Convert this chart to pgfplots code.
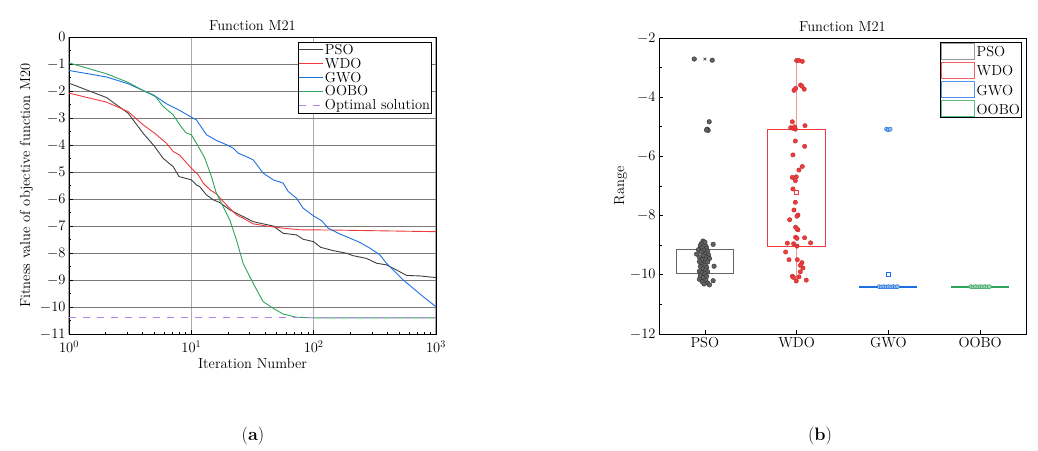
\RequirePackage{fix-cm}
\documentclass[border=0pt]{standalone}
\usepackage{pgfplots}
\pgfplotsset{compat=1.18}

\definecolor{cPSO}{HTML}{3F3F3F}
\definecolor{cWDO}{HTML}{EF3B3B}
\definecolor{cGWO}{HTML}{1C6FE0}
\definecolor{cOOBO}{HTML}{2EA35C}
\definecolor{cOPT}{HTML}{B482E8}
\definecolor{gridH}{HTML}{7A7A7A}
\definecolor{gridV}{HTML}{ABABAB}
\colorlet{bPSO}{gray!80}
\colorlet{bWDO}{cWDO!80}
\colorlet{bGWO}{cGWO!75}
\colorlet{bOOBO}{cOOBO!75}

\newcommand{\plotfont}{\fontsize{14.5}{16}\selectfont}

\pgfplotsset{
  panel/.style={
    scale only axis,
    anchor=south west,
    width=367pt,
    font=\plotfont,
    tick label style={font=\plotfont},
    label style={font=\plotfont},
    title style={font=\plotfont, yshift=-3pt},
    axis line style={line width=0.9pt},
    tick pos=left,
    tick align=inside,
    major tick length=4pt,
    minor tick length=2.5pt,
    every tick/.style={black, line width=0.7pt},
  },
  % legend samples: the stroke colour is given explicitly
  lineimg/.style={legend image code/.code={%
    \draw[draw=#1, line width=0.9pt] (0pt,0pt) -- (24pt,0pt);}},
  boximg/.style={legend image code/.code={%
    \draw[draw=#1, line width=1.1pt] (0pt,-7pt) rectangle (33pt,9pt);}},
}

\begin{document}
\begin{tikzpicture}
\useasboundingbox (0pt,0pt) rectangle (1038pt,450pt);

% ---------------- convergence curves ----------------
\begin{axis}[panel,
  at={(69pt,116pt)}, height=297pt,
  xmode=log, xmin=1, xmax=1000,
  ymin=-11, ymax=0, ytick={-11,-10,...,0},
  minor y tick num=1,
  title={Function M21},
  xlabel={Iteration Number},
  ylabel={Fitness value of objective function M20},
  xticklabel style={yshift=-3pt},
  xlabel style={yshift=1pt},
  xmajorgrids, ymajorgrids,
  x grid style={gridV, line width=1.1pt},
  y grid style={gridH, line width=0.6pt},
  legend cell align=left,
  legend style={at={(1,1)}, anchor=north east, xshift=-4pt, yshift=-5pt,
    draw=black, line width=0.8pt, inner sep=0.5pt,
    font=\plotfont,
    nodes={draw=none, inner sep=1.1pt}},
]
\addlegendimage{lineimg=cPSO}
\addlegendentry{PSO}
\addlegendimage{lineimg=cWDO}
\addlegendentry{WDO}
\addlegendimage{lineimg=cGWO}
\addlegendentry{GWO}
\addlegendimage{lineimg=cOOBO}
\addlegendentry{OOBO}
\addlegendimage{legend image code/.code={%
  \draw[draw=cOPT, line width=0.9pt, dash pattern=on 7pt off 7pt] (0pt,0pt) -- (24pt,0pt);}}
\addlegendentry{Optimal solution}

\addplot[forget plot, draw=cPSO, line width=0.9pt] coordinates {
 (1,-1.71)(2.02,-2.24)(3.04,-2.82)(4.03,-3.56)(5.0,-4.05)(5.87,-4.49)
 (7.1,-4.80)(7.94,-5.17)(10,-5.29)(11,-5.48)(11.7,-5.54)(13.3,-5.85)
 (15.1,-6.03)(17.1,-6.13)(20.6,-6.40)(24.9,-6.59)(28.2,-6.71)(32,-6.84)
 (38.6,-6.92)(46.7,-7.00)(56.3,-7.27)(72.4,-7.33)(82,-7.49)(100,-7.58)
 (114,-7.79)(144,-7.91)(186,-8.01)(210,-8.10)(270,-8.20)(327,-8.38)
 (394,-8.44)(476,-8.63)(575,-8.83)(741,-8.85)(1000,-8.91)};
\addplot[forget plot, draw=cWDO, line width=0.9pt] coordinates {
 (1,-2.08)(2.02,-2.41)(3.04,-2.76)(4.03,-3.25)(5.0,-3.56)(6.25,-3.93)
 (7.1,-4.24)(8.04,-4.38)(10,-4.86)(11.4,-5.11)(12.5,-5.41)(14.2,-5.66)
 (16,-5.81)(18.2,-6.09)(20.6,-6.34)(23.4,-6.59)(26.5,-6.71)(32,-6.92)
 (41.1,-7.00)(56.3,-7.08)(77,-7.14)(144,-7.15)(270,-7.17)(1000,-7.21)};
\addplot[forget plot, draw=cGWO, line width=0.9pt] coordinates {
 (1,-1.24)(2.02,-1.48)(3.04,-1.73)(4.03,-1.98)(5.18,-2.22)(6.25,-2.47)
 (8.04,-2.72)(10,-2.97)(11,-3.07)(13.3,-3.62)(16,-3.83)(19.4,-3.99)
 (22,-4.12)(24.1,-4.30)(28.2,-4.43)(32,-4.55)(38.6,-5.04)(46.7,-5.29)
 (56.3,-5.41)(61.9,-5.72)(72.4,-5.97)(82,-6.34)(100,-6.63)(116,-6.80)
 (131.5,-7.08)(159,-7.27)(198,-7.45)(239,-7.61)(288,-7.82)(348,-8.07)
 (394,-8.38)(448,-8.63)(540,-9.00)(652,-9.31)(787,-9.62)(1000,-9.99)};
\addplot[forget plot, draw=cOOBO, line width=0.9pt] coordinates {
 (1,-0.96)(2.02,-1.36)(3.04,-1.68)(4.03,-1.98)(5.0,-2.16)(5.87,-2.57)
 (7.1,-2.88)(8.04,-3.25)(9.0,-3.54)(10,-3.62)(11,-3.93)(12.9,-4.49)
 (14.6,-5.17)(16,-5.78)(18.2,-6.28)(20.6,-6.77)(23.4,-7.52)(26.5,-8.38)
 (32,-9.12)(38.6,-9.80)(46.7,-10.05)(56.3,-10.26)(72.4,-10.38)
 (100,-10.40)(1000,-10.40)};
\addplot[forget plot, draw=cOPT, line width=0.9pt, dash pattern=on 7pt off 7pt] coordinates {
 (1,-10.40)(1000,-10.40)};
\end{axis}

% ---------------- box charts ----------------
\begin{axis}[panel,
  at={(659pt,116pt)}, height=296pt,
  xmin=0.5, xmax=4.5,
  xtick={1,2,3,4}, xticklabels={PSO,WDO,GWO,OOBO},
  ymin=-12, ymax=-2, ytick={-12,-10,...,-2},
  minor y tick num=1,
  title={Function M21},
  ylabel={Range},
  ylabel style={yshift=-4pt},
  legend cell align=left,
  legend style={at={(1,1)}, anchor=north east, xshift=-4pt, yshift=-4pt,
    draw=black, line width=0.9pt, inner sep=0.5pt, row sep=2pt,
    font=\plotfont,
    nodes={draw=none, inner sep=1.2pt}},
]
\addlegendimage{boximg=bPSO}
\addlegendentry{PSO}
\addlegendimage{boximg=bWDO}
\addlegendentry{WDO}
\addlegendimage{boximg=bGWO}
\addlegendentry{GWO}
\addlegendimage{boximg=bOOBO}
\addlegendentry{OOBO}

% boxes (quartiles) and whiskers
\addplot[forget plot, draw=gray!80!black, line width=0.9pt] coordinates {
 (0.685,-9.15)(1.315,-9.15)(1.315,-9.96)(0.685,-9.96)(0.685,-9.15)};
\addplot[forget plot, draw=cWDO!55, line width=1.1pt] coordinates {(2,-2.75)(2,-5.08)};
\addplot[forget plot, draw=cWDO!55, line width=1.1pt] coordinates {(2,-9.03)(2,-10.22)};
\addplot[forget plot, draw=cWDO!55, line width=0.9pt] coordinates {(1.97,-2.75)(2.03,-2.75)};
\addplot[forget plot, draw=cWDO, line width=0.9pt] coordinates {
 (1.685,-5.08)(2.315,-5.08)(2.315,-9.03)(1.685,-9.03)(1.685,-5.08)};
\addplot[forget plot, draw=cGWO, line width=1.6pt] coordinates {(2.685,-10.41)(3.315,-10.41)};
\addplot[forget plot, draw=cOOBO, line width=1.6pt] coordinates {(3.685,-10.41)(4.315,-10.41)};

% PSO samples
\addplot[forget plot, only marks, mark=*, mark size=2.3pt,
  mark options={draw=black!80, fill=black!62, line width=0.4pt}]
  table[x expr=1+\thisrow{dx}, y=v] {
dx v
-0.116 -2.71
0.080 -2.75
0.047 -4.83
0.025 -5.08
0.036 -5.12
0.018 -5.11
-0.02 -8.86
0.00 -8.90
-0.04 -8.95
0.09 -8.97
-0.05 -9.02
0.01 -9.03
-0.03 -9.08
0.02 -9.10
-0.07 -9.15
-0.01 -9.17
0.03 -9.20
-0.04 -9.23
-0.09 -9.30
0.00 -9.28
0.04 -9.33
-0.02 -9.35
-0.06 -9.40
0.02 -9.42
0.05 -9.45
-0.03 -9.48
0.01 -9.50
-0.06 -9.55
0.03 -9.57
-0.01 -9.60
-0.04 -9.64
0.00 -9.68
0.10 -9.71
-0.05 -9.72
0.02 -9.75
-0.02 -9.80
0.01 -9.84
-0.06 -9.88
0.03 -9.90
-0.03 -9.93
0.00 -9.97
-0.05 -10.02
0.02 -10.05
-0.02 -10.10
0.09 -10.20
-0.06 -10.15
0.01 -10.18
-0.03 -10.23
0.03 -10.28
-0.01 -10.31
0.05 -10.34
};
\addplot[forget plot, only marks, mark=x, mark size=2pt, black!70, line width=0.6pt]
  coordinates {(1,-2.71)};

% WDO samples
\addplot[forget plot, only marks, mark=*, mark size=2.2pt,
  mark options={draw=cWDO!80!black, fill=cWDO, line width=0.4pt}]
  table[x expr=2+\thisrow{dx}, y=v] {
dx v
0.000 -2.76
0.025 -2.76
0.062 -2.79
0.043 -3.59
0.058 -3.63
-0.029 -3.77
-0.011 -3.70
0.083 -3.73
-0.047 -4.83
0.091 -4.96
-0.065 -5.03
-0.040 -5.05
-0.014 -5.08
-0.022 -5.00
-0.014 -5.48
0.087 -5.66
-0.040 -5.95
0.062 -6.34
0.025 -6.46
-0.047 -6.71
-0.004 -6.69
-0.014 -6.82
-0.040 -7.10
-0.014 -7.55
-0.029 -7.81
0.014 -7.98
0.004 -8.02
-0.076 -8.14
-0.011 -8.39
0.014 -8.48
0.004 -8.45
-0.011 -8.73
0.087 -8.75
0.004 -8.77
-0.101 -8.93
-0.033 -8.95
0.004 -9.03
0.152 -8.92
-0.120 -9.23
-0.083 -9.49
0.007 -9.49
0.058 -9.59
0.040 -9.68
0.069 -9.77
0.040 -9.90
-0.047 -10.05
-0.033 -10.09
0.025 -10.07
-0.004 -10.21
0.105 -10.18
};
\addplot[forget plot, only marks, mark=square, mark size=2pt, cWDO, line width=0.7pt, fill=white]
  coordinates {(2,-7.21)};

% GWO samples
\addplot[forget plot, only marks, mark=*, mark size=2pt,
  mark options={draw=cGWO, fill=cGWO!45, line width=0.5pt}]
  table[x expr=3+\thisrow{dx}, y=v] {
dx v
-0.10 -10.40
-0.075 -10.41
-0.05 -10.40
-0.025 -10.41
0.00 -10.40
0.025 -10.41
0.05 -10.40
0.075 -10.41
0.10 -10.40
-0.02 -5.08
0.00 -5.10
0.02 -5.08
};
\addplot[forget plot, only marks, mark=square, mark size=2pt, cGWO, line width=0.7pt, fill=white]
  coordinates {(3,-9.99)};

% OOBO samples
\addplot[forget plot, only marks, mark=*, mark size=2pt,
  mark options={draw=cOOBO, fill=cOOBO!45, line width=0.5pt}]
  table[x expr=4+\thisrow{dx}, y=v] {
dx v
-0.10 -10.40
-0.075 -10.41
-0.05 -10.40
-0.025 -10.41
0.00 -10.40
0.025 -10.41
0.05 -10.40
0.075 -10.41
0.10 -10.40
};
\end{axis}

\node[font=\fontsize{18}{21}\selectfont] at (253pt,14pt) {(\textbf{a})};
\node[font=\fontsize{18}{21}\selectfont] at (820pt,14pt) {(\textbf{b})};
\end{tikzpicture}
\end{document}
